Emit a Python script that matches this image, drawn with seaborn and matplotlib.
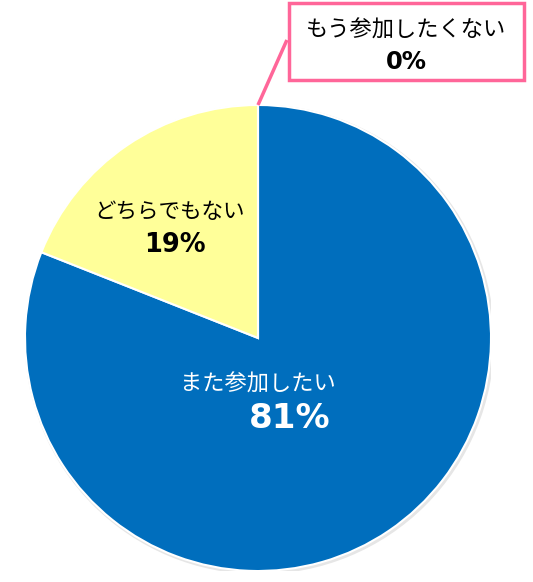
import matplotlib.pyplot as plt
import seaborn as sns
from matplotlib.patches import Rectangle, Circle

# Survey answers
categories = ['また参加したい', 'どちらでもない', 'もう参加したくない']
values = [81, 19, 0]
colors = ['#006EBD', '#FFFF99', '#FFFFFF']

sns.set_theme(style='white')
plt.rcParams['font.family'] = ['Noto Sans CJK JP', 'DejaVu Sans']

fig = plt.figure(figsize=(5.33, 5.82), dpi=100)
ax = fig.add_axes([25 / 533, 11 / 582, 466 / 533, 466 / 582])

# soft grey rim like the original shadow
ax.add_patch(Circle((0.006, -0.006), 1.008, facecolor='#E6E6E6', edgecolor='none', zorder=0))

ax.pie(values, colors=colors, startangle=90, counterclock=False, radius=1,
       wedgeprops=dict(edgecolor='white', linewidth=1.5))
ax.set_xlim(-1, 1)
ax.set_ylim(-1, 1)
ax.set_aspect('equal')
ax.axis('off')

pct = [f'{v}%' for v in values]

ax.text(0, -0.20, categories[0], color='white', fontsize=16, ha='center', va='center')
ax.text(0.137, -0.345, pct[0], color='white', fontsize=24.5, fontweight='bold',
        ha='center', va='center', family='DejaVu Sans')

ax.text(-0.378, 0.541, categories[1], color='black', fontsize=15.5, ha='center', va='center')
ax.text(-0.356, 0.399, pct[1], color='black', fontsize=18.5, fontweight='bold',
        ha='center', va='center', family='DejaVu Sans')

# callout for the 0% answer
ax.plot([0, 0.124], [1.0, 1.279], color='#FF6699', lw=2.5, clip_on=False, solid_capstyle='butt')
ax.add_patch(Rectangle((0.133, 1.107), 1.009, 0.331, facecolor='white', edgecolor='#FF6699',
                       lw=2.5, clip_on=False))
ax.text(0.637, 1.322, categories[2], color='black', fontsize=16, ha='center', va='center')
ax.text(0.637, 1.185, pct[2], color='black', fontsize=17.5, fontweight='bold',
        ha='center', va='center', family='DejaVu Sans')

plt.savefig('out.png', dpi=100)
